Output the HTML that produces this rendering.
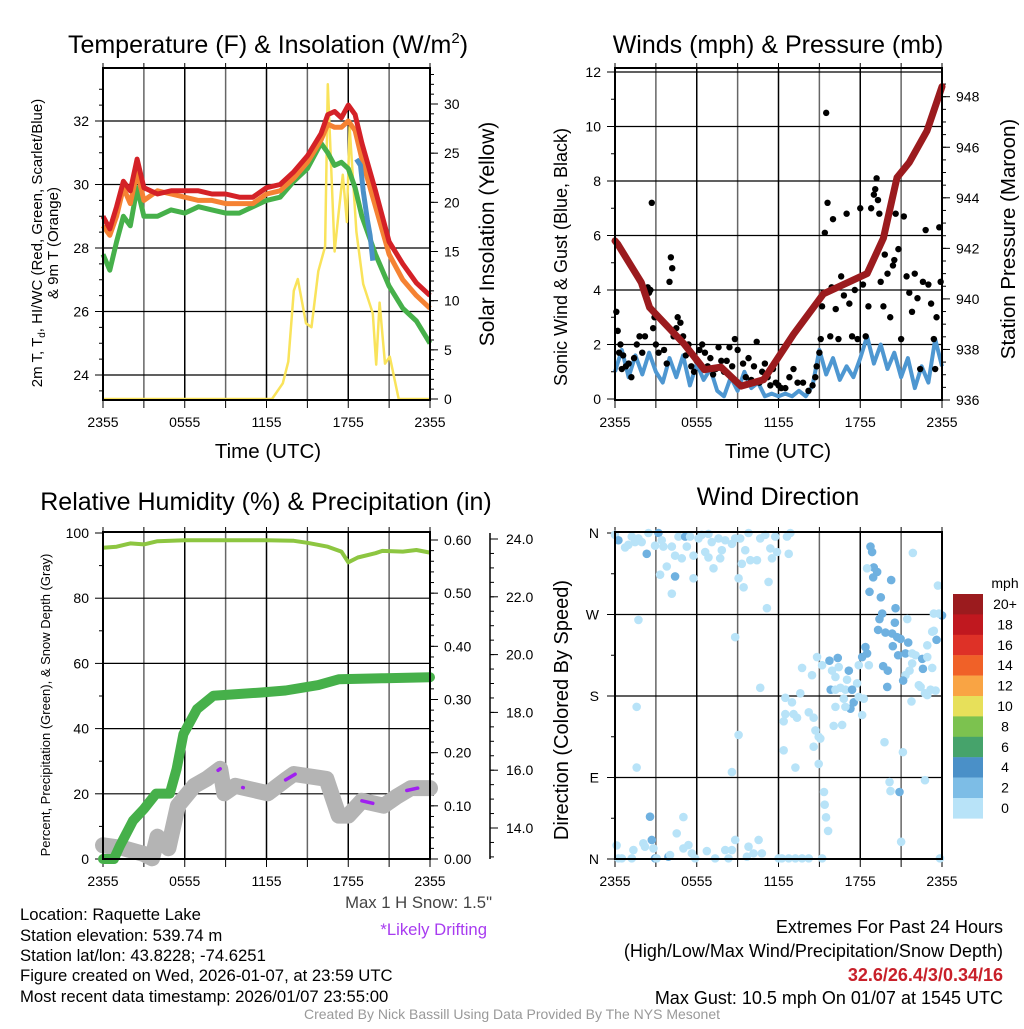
<!DOCTYPE html>
<html><head><meta charset="utf-8"><style>
html,body{margin:0;padding:0;background:#fff;}
svg text{font-family:"Liberation Sans",Arial,sans-serif;}
</style></head><body>
<svg id="s" width="1024" height="1024" viewBox="0 0 1024 1024" xmlns="http://www.w3.org/2000/svg"></svg>
<script>
// ---------- DATA ----------
const xTickLabels = ["2355","0555","1155","1755","2355"];
// Panel 1
const tTimes = [0,0.5,1,1.5,2,2.5,3,4,5,6,7,8,9,10,11,12,13,14,15,16,16.5,17,17.5,18,18.5,19,20,21,22,23,24];
const tempRed = [29.0,28.6,29.3,30.1,29.8,30.8,29.9,29.7,29.8,29.8,29.8,29.7,29.7,29.6,29.6,29.9,30.0,30.4,30.9,31.6,32.2,32.3,32.1,32.5,32.2,31.3,29.8,28.2,27.5,26.9,26.5];
const temp9m = [28.7,28.4,29.0,29.9,29.4,30.4,29.5,29.8,29.7,29.6,29.5,29.5,29.4,29.4,29.4,29.7,29.8,30.2,30.7,31.4,31.9,31.8,31.8,32.0,31.7,30.8,29.3,27.8,27.0,26.5,26.1];
const dewGreen = [27.8,27.3,28.2,29.0,28.7,29.9,29.0,29.0,29.2,29.1,29.3,29.2,29.1,29.1,29.3,29.5,29.6,30.1,30.5,31.3,31.0,30.6,30.7,30.5,29.9,29.0,27.8,26.8,26.1,25.7,25.0];
const hiTimes = [18.6,18.9,19.1,19.4,19.6,19.8];
const hiBlue = [30.8,30.6,29.8,28.9,28.4,27.6];
const solTimes = [0,12.4,13.2,13.6,14.0,14.3,14.9,15.3,15.8,16.3,16.5,17.0,17.3,17.6,17.9,18.1,18.6,19.1,19.8,20.05,20.3,20.7,21.05,21.7,24];
const solar = [0,0,1.6,3.8,11,12.2,7.7,7.3,13,15.5,32,15,19,22.8,18,27.7,17,11.7,8.7,3.5,9.8,3.6,4.3,0,0];
const p1LeftTicks = [24,26,28,30,32];
const p1RightTicks = [0,5,10,15,20,25,30];
// Panel 2
const wTimes = [];
for (let i=0;i<=48;i++) wTimes.push(i*0.5);
const sonicWind = [1.0,1.8,0.8,1.6,0.9,1.7,1.0,0.6,1.5,0.8,1.6,0.5,1.3,0.7,1.1,0.3,0.1,0.8,0.3,1.0,0.4,0.6,0.1,0.2,0.1,0.2,0.1,0.3,0.1,0.5,1.8,0.9,1.5,0.7,1.2,0.8,1.5,2.3,1.3,2.0,1.1,1.7,0.8,1.5,0.4,1.2,0.6,2.2,1.2];
const gustTimes = [0.1,0.2,0.3,0.4,0.5,0.6,0.8,1.0,1.2,1.4,1.6,1.8,2.0,2.2,2.4,2.5,2.6,2.7,2.8,2.9,3.0,3.2,3.4,3.6,3.8,4.0,4.1,4.2,4.3,4.5,4.6,4.8,5.0,5.2,5.4,5.6,5.8,6.0,6.2,6.4,6.6,6.8,7.0,7.2,7.4,7.6,7.8,8.0,8.2,8.4,8.6,8.8,9.0,9.2,9.4,9.6,9.8,10.0,10.2,10.4,10.6,10.8,11.0,11.2,11.4,11.6,11.8,12.0,12.2,12.5,12.8,13.1,13.4,13.8,14.2,14.5,14.7,14.8,15.0,15.1,15.2,15.3,15.4,15.5,15.6,15.8,15.9,16.0,16.2,16.4,16.6,16.8,17.0,17.2,17.4,17.6,17.8,18.0,18.2,18.4,18.6,18.8,19.0,19.1,19.2,19.3,19.4,19.5,19.7,19.8,20.0,20.2,20.4,20.5,20.6,20.8,21.0,21.2,21.4,21.6,21.8,22.0,22.2,22.4,22.6,22.8,23.0,23.2,23.4,23.5,23.6,23.8,23.9];
const gusts = [3.2,2.5,1.7,2.0,1.1,1.6,1.2,1.3,0.8,1.5,2.0,2.3,1.7,2.3,4.1,3.9,4.0,7.2,2.6,3.0,2.0,1.7,2.9,1.8,1.3,4.3,5.2,4.8,2.3,2.6,3.0,2.8,2.3,1.6,2.0,1.2,1.0,1.4,1.8,2.0,1.7,1.2,1.5,0.9,1.1,1.9,1.4,1.0,1.4,1.9,1.2,2.2,1.8,0.5,1.3,0.8,1.5,0.7,1.2,2.1,0.6,1.0,1.3,0.8,0.5,1.1,0.6,0.5,0.4,0.4,0.8,1.1,0.6,0.6,0.3,0.5,0.8,1.2,1.7,2.2,3.4,3.9,6.1,10.5,7.2,2.3,4.1,6.6,3.3,2.2,4.5,3.8,6.8,3.5,2.3,4.0,2.2,7.0,4.2,2.3,3.4,7.0,7.5,7.7,8.1,7.3,6.8,4.3,3.4,5.3,4.6,3.0,4.9,5.1,6.8,5.5,2.2,6.7,4.5,3.9,3.2,4.6,3.7,1.1,4.3,6.2,4.2,3.5,2.2,1.1,3.0,6.3,4.3];
const presTimes = [0,0.2,1.93,2.54,5.1,6.56,7.78,9.25,10.9,13.1,15.3,17.3,18.5,19.7,20.7,21.6,22.9,24];
const pressure = [942.3,942.17,940.65,939.66,938.2,937.2,937.3,936.55,936.8,938.6,940.2,940.7,941.0,942.4,944.8,945.4,946.65,948.4];
const p2LeftTicks = [0,2,4,6,8,10,12];
const p2RightTicks = [936,938,940,942,944,946,948];
// Panel 3
const rhTimes = [0,1,2,3,4,6,8,10,12,14,15,16.5,17.5,18.0,18.7,20,20.5,22,23,24];
const rh = [95.5,95.8,96.8,96.5,97.5,97.8,97.8,97.8,97.8,97.6,97.0,95.8,94.3,91.0,92.5,93.8,94.5,94.3,94.8,94.0];
const prTimes = [0,0.8,1.25,2.2,3.0,3.9,4.9,5.4,5.9,6.9,8.1,11.5,13.4,15.8,17.3,20.7,24];
const precip = [0,0,0.025,0.072,0.094,0.123,0.123,0.169,0.235,0.282,0.307,0.313,0.317,0.327,0.338,0.340,0.342];
const snTimes = [0,1.5,3.0,3.6,4.0,4.8,5.5,6.7,7.6,8.6,8.9,9.7,12.1,13.5,14.0,16.4,17.3,18.0,19.0,20.6,21.6,22.6,24];
const snow = [13.4,13.3,13.1,12.95,13.7,13.3,14.77,15.46,15.7,16.05,15.2,15.46,15.2,15.7,15.87,15.7,14.43,14.43,14.94,14.77,15.1,15.38,15.38];
const driftStart = [8.45,10.25,13.4,19.0,22.3];
const driftEnd = [8.6,10.3,14.1,19.8,23.1];
const p3LeftTicks = [0,20,40,60,80,100];
const p3PrecipTicks = [0,0.1,0.2,0.3,0.4,0.5,0.6];
const p3SnowTicks = [14,16,18,20,22,24];
// Panel 4
const dirTimes = [0,0.25,0.74,0.98,1.23,1.47,1.72,1.96,2.45,2.33,2.94,3.19,3.43,3.55,3.8,3.31,4.17,4.17,4.41,4.41,4.66,4.9,5.15,5.27,5.51,5.76,5.76,6.13,6.37,6.62,6.86,6.86,7.1,7.23,7.6,7.72,7.84,8.09,8.58,8.82,9.07,9.19,9.31,9.44,9.56,9.8,9.93,10.42,10.66,11.03,11.27,11.4,11.52,11.76,11.89,12.62,12.75,12.87,11.15,
1.72,8.82,1.59,9.07,1.59,8.58,10.66,13.11,13.36,
0.12,0.25,0.5,1.23,1.35,2.08,2.2,2.57,2.7,2.82,2.94,3.06,3.92,4.04,4.53,5.02,5.02,5.39,5.64,5.88,6.74,7.35,8.09,8.33,8.58,8.82,9.8,9.68,10.17,10.54,10.78,12.01,12.25,12.75,13.24,13.73,14.22,15.2,
14.83,15.2,15.74,15.93,16.18,16.35,16.42,17.16,17.03,17.77,17.89,18.14,18.38,18.5,18.63,15.83,16.18,16.54,16.91,17.4,17.52,17.28,16.79,16.91,16.18,17.89,18.26,18.14,16.05,16.67,12.5,12.99,13.6,13.73,14.46,12.5,12.38,14.22,14.58,14.71,14.95,15.07,14.58,12.38,13.24,14.95,15.34,15.39,15.49,15.64,
18.75,18.87,18.99,19.24,18.95,18.5,18.68,19.51,20.27,21.86,23.7,20.59,19.61,19.41,20.54,19.31,19.85,20.34,20.71,20.96,21.52,20.39,20.78,21.32,21.45,22.92,23.6,24.0,23.4,23.28,23.4,23.77,21.81,22.06,22.55,22.6,22.92,23.28,21.81,21.62,21.32,21.15,19.98,19.68,20.02,22.3,22.43,22.75,22.92,23.16,23.53,21.76,19.78,21.13,20.15,20.22,20.88,22.75,21.0,23.85];
const dirDeg = [358,352,344,347,356,350,354,350,360,337,346,360,352,345,323,314,345,293,312,335,356,332,356,345,356,335,310,354,358,339,333,359,350,321,354,332,341,352,348,354,310,354,326,300,341,360,330,330,354,358,306,343,332,356,339,356,337,360,277,
264,245,168,137,101,96,189,160,156,
15,0.7,0.7,0.7,9.9,17.3,13.6,46.7,21,11.7,0.7,0.7,2.5,4.4,28.3,46.3,11.7,15.4,6.2,0.7,8.8,0.7,9.9,0.7,9.9,21,13.6,2.5,6.2,21,6.2,0.7,0.7,0.7,0.7,0.7,0.7,0.7,
223,214,219,208,201,222,212,208,198,194,214,223,234,227,214,187,187,189,187,187,173,166,177,168,168,179,177,159,147,148,178,173,183,211,203,160,152,162,156,142,135,133,124,120,101,105,74,60,46,31,
345,339,322,317,311,321,295,289,308,338,302,277,271,265,261,253,250,249,245,243,239,235,225,227,265,236,242,269,252,251,271,271,227,225,221,210,223,211,216,208,203,197,190,213,208,192,190,183,181,187,186,174,129,118,85,75,74,87,19,0.7];
const dirSpeed = [1,3,1,1,1,1,1,1,1,3,1,3,1,1,1,1,1,1,3,1,1,1,3,1,1,1,1,1,1,1,1,1,1,1,1,1,1,1,1,1,1,1,1,1,1,1,1,1,1,1,1,1,1,1,1,1,1,1,1,
1,1,1,1,1,1,1,1,1,
1,1,1,1,1,1,1,3,3,1,3,1,3,1,1,1,1,1,1,1,1,1,1,1,1,1,1,1,1,1,1,1,1,1,1,1,1,1,
1,1,3,1,1,3,1,3,1,1,1,3,3,3,1,3,1,1,1,3,3,3,1,1,1,1,1,1,1,1,1,1,1,1,1,1,1,1,1,1,1,1,1,1,1,1,1,1,1,1,
3,3,3,3,3,1,3,3,3,1,1,3,3,3,3,3,3,3,3,3,3,3,3,3,1,1,3,3,1,1,1,1,1,1,3,3,1,1,1,1,1,3,3,3,3,1,1,1,1,1,1,1,1,1,1,1,3,1,1,1];
const dirTicks = [0,90,180,270,360];
const dirLabels = ["N","E","S","W","N"];
const cbLabels = ["20+","18","16","14","12","10","8","6","4","2","0"];
const cbColors = ["#9b1b1e","#c0181f","#de3127","#f06128","#f9a444","#e7e05a","#7cc24f","#46a36b","#4a90c8","#7dbde6","#b8e3f8"];

// ---------- DRAW ----------
const NS="http://www.w3.org/2000/svg";
const svg=document.getElementById('s');
function el(tag,attrs,parent){const e=document.createElementNS(NS,tag);for(const k in attrs)e.setAttribute(k,attrs[k]);(parent||svg).appendChild(e);return e;}
function txt(s,x,y,size,anchor,parent,extra){const t=el('text',Object.assign({x:x,y:y,'font-size':size,'text-anchor':anchor||'middle',fill:'#000'},extra||{}),parent);t.textContent=s;return t;}
function lin(d0,d1,r0,r1){return v=>r0+(v-d0)/(d1-d0)*(r1-r0);}
function pathD(xs,ys,fx,fy){return xs.map((t,i)=>(i?'L':'M')+fx(t).toFixed(1)+' '+fy(ys[i]).toFixed(1)).join(' ');}

function frame(g,L,R,T,B,fx){
  for(let h=3;h<24;h+=3){el('line',{x1:fx(h),x2:fx(h),y1:T,y2:B,stroke:(h%6==0)?'#000':'#666','stroke-width':1.5},g);}
  for(let h=0;h<=24;h+=3){el('line',{x1:fx(h),x2:fx(h),y1:B,y2:B+8,stroke:'#000','stroke-width':1},g);el('line',{x1:fx(h),x2:fx(h),y1:T-5,y2:T,stroke:'#000','stroke-width':1},g);}
  for(let i=0;i<5;i++){const t=txt(xTickLabels[i],fx(i*6),B+27,14,'middle',g);}
}
function box(g,L,R,T,B){el('rect',{x:L,y:T,width:R-L,height:B-T,fill:'none',stroke:'#000','stroke-width':2},g);}
function hgrid(g,L,R,ys){ys.forEach(y=>el('line',{x1:L,x2:R,y1:y,y2:y,stroke:'#000','stroke-width':1.2},g));}

// ===== Panel 1 =====
{
const g=el('g',{});  
const L=103,R=430,T=68,B=400;
const fx=lin(0,24,L,R), fy=lin(24,32,375,121), fs=lin(0,30,399,104);
frame(g,L,R,T,B,fx);
hgrid(g,L,R,p1LeftTicks.map(fy));
p1LeftTicks.forEach(v=>{el('line',{x1:L-8,x2:L,y1:fy(v),y2:fy(v),stroke:'#000'},g);const t=txt(String(v),L-14,fy(v)+5,14,'end',g);});
for(let v=23.5;v<33.5;v+=0.5){el('line',{x1:L-4,x2:L,y1:fy(v),y2:fy(v),stroke:'#000'},g);}
p1RightTicks.forEach(v=>{el('line',{x1:R,x2:R+8,y1:fs(v),y2:fs(v),stroke:'#000'},g);const t=txt(String(v),R+14,fs(v)+5,14,'start',g);});
for(let v=1;v<=33;v++){el('line',{x1:R,x2:R+4,y1:fs(v),y2:fs(v),stroke:'#000'},g);}
const sp=el('path',{d:pathD(solTimes,solar,fx,fs),fill:'none',stroke:'#f9e35b','stroke-width':2.5,'stroke-linejoin':'round'},g);  
const gp=el('path',{d:pathD(tTimes,dewGreen,fx,fy),fill:'none',stroke:'#46b04a','stroke-width':5,'stroke-linejoin':'round'},g);  
const op=el('path',{d:pathD(tTimes,temp9m,fx,fy),fill:'none',stroke:'#f58233','stroke-width':5,'stroke-linejoin':'round'},g);  
const rp=el('path',{d:pathD(tTimes,tempRed,fx,fy),fill:'none',stroke:'#d42127','stroke-width':5,'stroke-linejoin':'round'},g);  
const bp=el('path',{d:pathD(hiTimes,hiBlue,fx,fy),fill:'none',stroke:'#4a90c8','stroke-width':5},g);  
box(g,L,R,T,B);
const ti=txt('',268,53,25,'middle',g); ti.innerHTML='Temperature (F) &amp; Insolation (W/m<tspan font-size="15" dy="-10">2</tspan><tspan dy="10">)</tspan>';  
const xt=txt('Time (UTC)',268,458,20.5,'middle',g);  
const yt=el('text',{transform:'translate(42,243) rotate(-90)','font-size':15,'text-anchor':'middle'},g); yt.innerHTML='2m T, T<tspan font-size="10" dy="3">d</tspan><tspan dy="-3">, HI/WC (Red, Green, Scarlet/Blue)</tspan>';  
const yt2=txt('& 9m T (Orange)',0,0,15,'middle',g); yt2.setAttribute('transform','translate(58,243) rotate(-90)');  
const y2=txt('Solar Insolation (Yellow)',0,0,21,'middle',g); y2.setAttribute('transform','translate(494,234) rotate(-90)');  
}
// ===== Panel 2 =====
{
const g=el('g',{});  
const L=615,R=942,T=68,B=400;
const fx=lin(0,24,L,R), fy=lin(0,12,399,72), fp=lin(936,948,400,96.7);
frame(g,L,R,T,B,fx);
hgrid(g,L,R,p2LeftTicks.slice(1).map(fy));
p2LeftTicks.forEach(v=>{el('line',{x1:L-8,x2:L,y1:fy(v),y2:fy(v),stroke:'#000'},g);const t=txt(String(v),L-14,fy(v)+5,14,'end',g);});
for(let v=1;v<12;v+=2){el('line',{x1:L-4,x2:L,y1:fy(v),y2:fy(v),stroke:'#000'},g);}
p2RightTicks.forEach(v=>{el('line',{x1:R,x2:R+8,y1:fp(v),y2:fp(v),stroke:'#000'},g);const t=txt(String(v),R+14,fp(v)+5,14,'start',g);});
for(let v=936.5;v<949;v+=0.5){el('line',{x1:R,x2:R+4,y1:fp(v),y2:fp(v),stroke:'#000'},g);}
const wp=el('path',{d:pathD(wTimes,sonicWind,fx,fy),fill:'none',stroke:'#4e97d1','stroke-width':4,'stroke-linejoin':'round'},g);  
gustTimes.forEach((t,i)=>{const c=el('circle',{cx:fx(t),cy:fy(gusts[i]),r:3.2,fill:'#000'},g);});
const pp=el('path',{d:pathD(presTimes,pressure,fx,fp),fill:'none',stroke:'#9b1b1e','stroke-width':7,'stroke-linejoin':'round','stroke-linecap':'round'},g);  
box(g,L,R,T,B);
const ti=txt('Winds (mph) & Pressure (mb)',778,53,25,'middle',g);  
const xt=txt('Time (UTC)',778,458,20.5,'middle',g);  
const yt=txt('Sonic Wind & Gust (Blue, Black)',0,0,18,'middle',g); yt.setAttribute('transform','translate(567,257) rotate(-90)');  
const y2=txt('Station Pressure (Maroon)',0,0,20.5,'middle',g); y2.setAttribute('transform','translate(1015,239) rotate(-90)');  
}
// ===== Panel 3 =====
{
const g=el('g',{});  
const L=103,R=430,T=532,B=859;
const fx=lin(0,24,L,R), fy=lin(0,100,859,533), fp=lin(0,0.6,859,540), fsn=lin(14,24,828,539);
frame(g,L,R,T,B,fx);
hgrid(g,L,R,p3LeftTicks.slice(1,5).map(fy));
p3LeftTicks.forEach(v=>{el('line',{x1:L-8,x2:L,y1:fy(v),y2:fy(v),stroke:'#000'},g);const t=txt(String(v),L-14,fy(v)+5,14,'end',g);});
for(let v=10;v<100;v+=20){el('line',{x1:L-4,x2:L,y1:fy(v),y2:fy(v),stroke:'#000'},g);}
p3PrecipTicks.forEach(v=>{el('line',{x1:R,x2:R+8,y1:fp(v),y2:fp(v),stroke:'#000'},g);const t=txt(v.toFixed(2),R+14,fp(v)+5,14,'start',g);});
for(let v=0.02;v<0.61;v+=0.02){el('line',{x1:R,x2:R+4,y1:fp(v),y2:fp(v),stroke:'#000'},g);}
el('line',{x1:490,x2:490,y1:533,y2:859,stroke:'#000','stroke-width':1.5},g);
p3SnowTicks.forEach(v=>{el('line',{x1:490,x2:498,y1:fsn(v),y2:fsn(v),stroke:'#000'},g);const t=txt(v.toFixed(1),506,fsn(v)+5,14,'start',g);});
for(let v=13;v<24.2;v+=0.5){el('line',{x1:490,x2:494,y1:fsn(v),y2:fsn(v),stroke:'#000'},g);}
const sp=el('path',{d:pathD(snTimes,snow,fx,fsn),fill:'none',stroke:'#b4b4b4','stroke-width':16,'stroke-linejoin':'round','stroke-linecap':'round'},g);  
driftStart.forEach((s,i)=>{const xs=[s,driftEnd[i]];const ys=xs.map(t=>{let k=1;while(k<snTimes.length-1&&snTimes[k]<t)k++;const f=(t-snTimes[k-1])/(snTimes[k]-snTimes[k-1]);return snow[k-1]+f*(snow[k]-snow[k-1]);});const d=el('path',{d:pathD(xs,ys,fx,fsn),stroke:'#a020f0','stroke-width':3.5,'stroke-linecap':'round',fill:'none'},g);});
const pp=el('path',{d:pathD(prTimes,precip,fx,fp),fill:'none',stroke:'#46b04a','stroke-width':10,'stroke-linejoin':'round','stroke-linecap':'round'},g);  
const hp=el('path',{d:pathD(rhTimes,rh,fx,fy),fill:'none',stroke:'#8dc641','stroke-width':4,'stroke-linejoin':'round'},g);  
box(g,L,R,T,B);
const ti=txt('Relative Humidity (%) & Precipitation (in)',266,510,25,'middle',g);  
const yt=txt('Percent, Precipitation (Green), & Snow Depth (Gray)',0,0,13,'middle',g); yt.setAttribute('transform','translate(50,705) rotate(-90)');  
const ms=txt('Max 1 H Snow: 1.5"',492,908,16.7,'end',g,{fill:'#444'});  
const dr=txt('*Likely Drifting',487,935,16.7,'end',g,{fill:'#a83cf0'});  
}
// ===== Panel 4 =====
{
const g=el('g',{});  
const L=615,R=942,T=532,B=859;
const fx=lin(0,24,L,R), fy=lin(0,360,859,533);
frame(g,L,R,T,B,fx);
hgrid(g,L,R,dirTicks.slice(1,4).map(fy));
dirTicks.forEach((v,i)=>{el('line',{x1:L-8,x2:L,y1:fy(v),y2:fy(v),stroke:'#000'},g);const t=txt(dirLabels[i],L-16,fy(v)+5,14,'end',g);});
[45,135,225,315].forEach(v=>el('line',{x1:L-4,x2:L,y1:fy(v),y2:fy(v),stroke:'#000'},g));
dirTimes.forEach((t,i)=>{const sp=dirSpeed[i];const c=el('circle',{cx:fx(t),cy:fy(Math.min(360,dirDeg[i])),r:4.3,fill:sp>=2?'#6fb1e0':'#b8e3f8'},g);});
box(g,L,R,T,B);
const ti=txt('Wind Direction',778,505,25,'middle',g);  
const yt=txt('Direction (Colored By Speed)',0,0,20,'middle',g); yt.setAttribute('transform','translate(568,710) rotate(-90)');  
const cb=el('g',{},g);  
const mph=txt('mph',1005,588,14,'middle',cb);  
cbColors.forEach((c,i)=>{const y=594+i*20.4;const r=el('rect',{x:953,y:y,width:30,height:20.6,fill:c},cb);const t=txt(cbLabels[i],1005,y+15,14,'middle',cb);});
}
// ===== Footer =====
{
const g=el('g',{});  
const lines=["Location: Raquette Lake","Station elevation: 539.74 m","Station lat/lon: 43.8228; -74.6251","Figure created on Wed, 2026-01-07, at 23:59 UTC","Most recent data timestamp: 2026/01/07 23:55:00"];
const ys=[920,941,961,981,1002];
lines.forEach((s,i)=>{const t=txt(s,20,ys[i],16.7,'start',g);});
const g2=el('g',{});  
let t=txt('Extremes For Past 24 Hours',1003,933,18,'end',g2);  
t=txt('(High/Low/Max Wind/Precipitation/Snow Depth)',1003,957,18,'end',g2);  
t=txt('32.6/26.4/3/0.34/16',1003,981,18,'end',g2,{fill:'#c8202a','font-weight':'bold'});  
t=txt('Max Gust: 10.5 mph On 01/07 at 1545 UTC',1003,1004,18,'end',g2);  
t=txt('Created By Nick Bassill Using Data Provided By The NYS Mesonet',512,1019,14,'middle',svg,{fill:'#999'});  
}
</script>
</body></html>
